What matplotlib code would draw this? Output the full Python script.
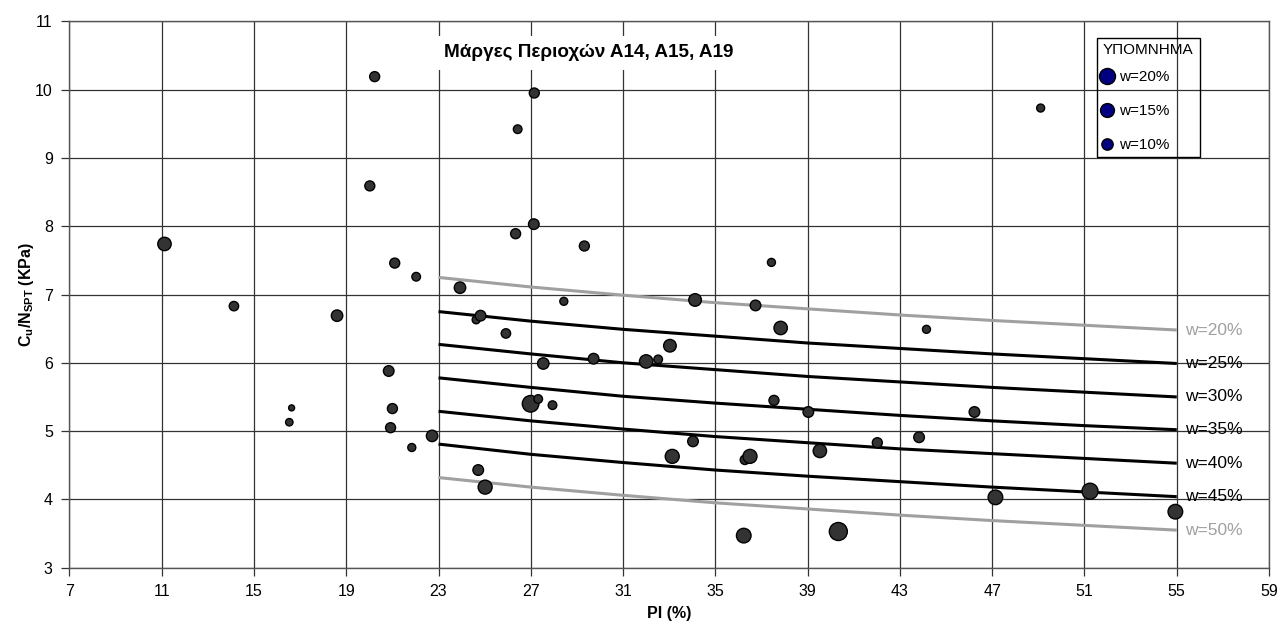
import matplotlib
matplotlib.use("Agg")
import matplotlib.pyplot as plt
from matplotlib.lines import Line2D
from matplotlib.patches import Rectangle
import numpy as np

plt.rcParams['font.family'] = ['Liberation Sans', 'DejaVu Sans']
plt.rcParams['mathtext.fontset'] = 'custom'
plt.rcParams['mathtext.rm'] = 'Liberation Sans'
plt.rcParams['mathtext.bf'] = 'Liberation Sans:bold'
plt.rcParams['mathtext.it'] = 'Liberation Sans:italic'

# ---- data: measured points (PI %, Cu/Nspt) and bubble size value w (%) ----
pi_vals = [11.12, 20.02, 20.23, 21.10, 22.03, 23.93, 14.13, 18.60, 20.84, 16.63,
           16.53, 21.00, 20.92, 22.72, 21.84, 24.72, 25.02, 26.34, 27.13, 29.32,
           37.43, 28.43, 34.12, 36.74, 37.83, 24.63, 24.82, 25.92, 33.03, 27.54,
           29.72, 32.00, 32.52, 26.99, 27.32, 27.94, 37.54, 39.03, 34.03, 33.13,
           36.28, 36.50, 39.53, 44.15, 46.23, 43.83, 42.02, 47.14, 51.24, 54.94,
           40.33, 36.23, 27.15, 26.43, 49.10]
cu_vals = [7.74, 8.59, 10.19, 7.46, 7.26, 7.10, 6.83, 6.69, 5.88, 5.34,
           5.13, 5.33, 5.05, 4.93, 4.76, 4.43, 4.18, 7.89, 8.03, 7.71,
           7.47, 6.90, 6.92, 6.84, 6.51, 6.63, 6.69, 6.43, 6.25, 5.99,
           6.06, 6.02, 6.05, 5.40, 5.47, 5.38, 5.45, 5.28, 4.85, 4.63,
           4.58, 4.63, 4.71, 6.49, 5.28, 4.91, 4.83, 4.03, 4.12, 3.82,
           3.53, 3.47, 9.95, 9.42, 9.73]
w_vals = [14.0, 7.8, 7.8, 7.8, 5.8, 10.2, 6.9, 10.2, 8.8, 2.8,
          4.3, 7.8, 7.8, 10.2, 5.0, 8.8, 15.3, 7.8, 8.8, 7.8,
          5.0, 5.0, 12.4, 8.8, 14.0, 5.0, 8.8, 6.9, 12.4, 10.2,
          8.8, 14.0, 5.8, 21.5, 5.8, 5.8, 7.8, 8.8, 8.8, 15.3,
          6.9, 15.3, 14.0, 5.0, 8.8, 8.8, 7.8, 16.7, 20.0, 16.7,
          25.3, 16.7, 7.8, 5.8, 5.0]

# ---- reference curves ----
curve_pi = [23, 27, 31, 35, 39, 43, 47, 51, 55]
curve_labels = ['w=20%', 'w=25%', 'w=30%', 'w=35%', 'w=40%', 'w=45%', 'w=50%']
curve_w20 = [7.25, 7.11, 6.99, 6.88, 6.79, 6.70, 6.62, 6.55, 6.48]
curve_w25 = [6.75, 6.61, 6.49, 6.39, 6.29, 6.21, 6.13, 6.06, 5.99]
curve_w30 = [6.27, 6.13, 6.00, 5.90, 5.80, 5.72, 5.64, 5.57, 5.50]
curve_w35 = [5.78, 5.64, 5.51, 5.41, 5.32, 5.23, 5.15, 5.08, 5.02]
curve_w40 = [5.29, 5.15, 5.03, 4.92, 4.83, 4.74, 4.67, 4.60, 4.53]
curve_w45 = [4.81, 4.66, 4.54, 4.43, 4.34, 4.26, 4.18, 4.11, 4.04]
curve_w50 = [4.32, 4.18, 4.06, 3.95, 3.86, 3.77, 3.69, 3.62, 3.55]
curves = [curve_w20, curve_w25, curve_w30, curve_w35, curve_w40, curve_w45, curve_w50]

legend_w = [20, 15, 10]
legend_labels = ['w=20%', 'w=15%', 'w=10%']

title_text = 'Μάργες Περιοχών Α14, Α15, Α19'
legend_title = 'ΥΠΟΜΝΗΜΑ'

# ---- figure ----
fig = plt.figure(figsize=(12.79, 6.28), dpi=100)
ax = fig.add_axes([0.0543, 0.0960, 0.9379, 0.8701])

ax.set_xlim(7, 59)
ax.set_ylim(3, 11)
ax.set_xticks(np.arange(7, 60, 4))
ax.set_yticks(np.arange(3, 12, 1))
ax.grid(True, color='#333333', linewidth=0.9)
ax.set_axisbelow(True)
for sp in ax.spines.values():
    sp.set_color('#555555')
    sp.set_linewidth(1.0)
ax.tick_params(direction='out', length=6, width=0.9, color='#333333',
               labelsize=11.5)
ax.tick_params(axis='x', pad=6)
ax.tick_params(axis='y', pad=6)

size_k = 6.64
curve_colors = ['#a0a0a0', 'black', 'black', 'black', 'black', 'black', '#a0a0a0']
for ys, lab, col in zip(curves, curve_labels, curve_colors):
    ax.plot(curve_pi, ys, color=col, linewidth=2.2, zorder=3,
            solid_capstyle='butt', solid_joinstyle='round')
    ax.text(curve_pi[-1] + 0.35, ys[-1], lab, color=col, fontsize=12.5,
            va='center', ha='left', zorder=4)

ax.scatter(pi_vals, cu_vals, s=[size_k * w for w in w_vals], c='#333333',
           edgecolors='black', linewidths=1.0, zorder=5)

ax.text(0.433, 0.942, title_text, transform=ax.transAxes, fontsize=13.6,
        fontweight='bold', ha='center', va='center', zorder=6,
        bbox=dict(facecolor='white', edgecolor='none', pad=6))

# legend: frame + title drawn explicitly, entries via ax.legend
ax.add_patch(Rectangle((0.8566, 0.7517), 0.0859, 0.2177, transform=ax.transAxes,
                       facecolor='none', edgecolor='black', linewidth=1.0,
                       zorder=7, clip_on=False))
ax.text(0.8995, 0.9475, legend_title, transform=ax.transAxes, fontsize=11,
        ha='center', va='center', zorder=7)
handles = [Line2D([], [], linestyle='none', marker='o', markersize=np.sqrt(size_k * w),
                  markerfacecolor='#000080', markeredgecolor='black', markeredgewidth=1.0)
           for w in legend_w]
leg = ax.legend(handles, legend_labels, loc='upper left',
                bbox_to_anchor=(0.8595, 0.9105), frameon=False, fontsize=11,
                handlelength=0.9, handletextpad=0.3, labelspacing=1.3,
                borderpad=0, borderaxespad=0, alignment='left')
leg.set_zorder(7)

ax.set_xlabel('PI (%)', fontsize=11.5, fontweight='bold', labelpad=5)
ax.set_ylabel(r'$\mathbf{C_u/N_{SPT}}$ (KPa)', fontsize=11.5, fontweight='bold')
ax.yaxis.set_label_coords(-0.0275, 0.5)

fig.savefig('out.png', dpi=100)
